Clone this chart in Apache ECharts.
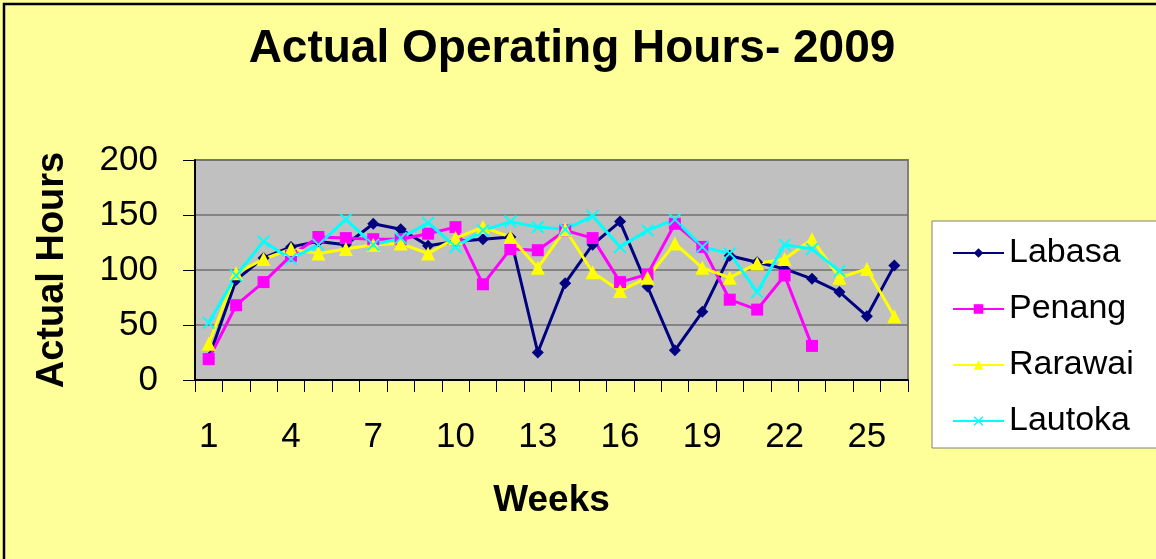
<!DOCTYPE html>
<html>
<head>
<meta charset="utf-8">
<script src="https://cdn.jsdelivr.net/npm/echarts@6/dist/echarts.min.js"></script>
<style>
	html, body { margin: 0; padding: 0; background: #ffff99; }
	#container { width: 1156px; height: 559px; }
</style>
</head>
<body>
<div id="container"></div>
<script>
const weeks = [...Array(26)].map((item, index) => String(index + 1));
const labasa = [20, 91, 111, 121, 126, 123, 142, 137, 122, 126, 128, 130, 25, 88, 123, 144, 85, 27, 62, 113, 107, 101, 92, 80, 58, 104];
const penang = [19, 68, 89, 113, 130, 129, 128, 128, 133, 139, 87, 119, 118, 136, 129, 89, 96, 142, 121, 73, 64, 95, 31, null, null, null];
const rarawai = [33, 97, 110, 119, 115, 119, 123, 124, 115, 129, 139, 130, 102, 137, 98, 81, 93, 124, 102, 93, 106, 110, 128, 93, 101, 58];
const lautoka = [52, 95, 126, 110, 123, 146, 123, 129, 143, 121, 136, 144, 139, 137, 149, 121, 136, 146, 121, 115, 80, 123, 119, 99, null, null];

const dom = document.getElementById('container');
const myChart = echarts.init(dom);

const font = 'Liberation Sans, Arial, sans-serif';
const crossIcon = 'path://M0,1L1,0L5,4L9,0L10,1L6,5L10,9L9,10L5,6L1,10L0,9L4,5Z';

function line(name, data, color, symbol, size) {
	return {
		name: name,
		type: 'line',
		data: data,
		symbol: symbol,
		symbolSize: size,
		showAllSymbol: true,
		lineStyle: { color: color, width: 3 },
		itemStyle: { color: color },
		emphasis: { disabled: true },
	};
}

const option = {
	backgroundColor: '#ffff99',
	animation: false,
	title: {
		text: 'Actual Operating Hours- 2009',
		left: 567,
		textAlign: 'center',
		top: 21,
		textStyle: { fontFamily: font, fontSize: 46, fontWeight: 'bold', color: '#000' },
	},
	graphic: [{
		type: 'rect',
		shape: { x: 4, y: 4, width: 1170, height: 580 },
		style: { fill: null, stroke: '#000', lineWidth: 2.5 },
		silent: true,
	}],
	legend: {
		orient: 'vertical',
		left: 932,
		top: 221,
		padding: [15, 40, 10, 20],
		itemGap: 22,
		itemWidth: 51,
		itemHeight: 12,
		backgroundColor: '#fff',
		borderColor: '#808080',
		borderWidth: 1,
		textStyle: { fontFamily: font, fontSize: 34, color: '#000' },
		data: ['Labasa', 'Penang', 'Rarawai', 'Lautoka'],
	},
	grid: {
		left: 195,
		top: 160,
		right: 248,
		bottom: 179,
		show: true,
		backgroundColor: '#c0c0c0',
		borderColor: '#808080',
		borderWidth: 2,
	},
	xAxis: {
		type: 'category',
		data: weeks,
		boundaryGap: true,
		name: 'Weeks',
		nameLocation: 'middle',
		nameGap: 102,
		nameTextStyle: { fontFamily: font, fontSize: 37, fontWeight: 'bold', color: '#000' },
		axisLine: { lineStyle: { color: '#000', width: 2 } },
		axisTick: { show: true, interval: 0, length: 12, lineStyle: { color: '#000' } },
		axisLabel: { interval: 2, margin: 40, fontFamily: font, fontSize: 35, color: '#000' },
	},
	yAxis: {
		type: 'value',
		min: 0,
		max: 200,
		interval: 50,
		name: 'Actual Hours',
		nameLocation: 'middle',
		nameGap: 123,
		nameTextStyle: { fontFamily: font, fontSize: 38, fontWeight: 'bold', color: '#000' },
		axisLine: { show: true, lineStyle: { color: '#000', width: 2 } },
		axisTick: { show: true, length: 12, lineStyle: { color: '#000' } },
		axisLabel: { margin: 37, fontFamily: font, fontSize: 35, color: '#000' },
		splitLine: { lineStyle: { color: '#707070', width: 1.5 } },
	},
	series: [
		line('Labasa', labasa, '#000080', 'diamond', 12),
		line('Penang', penang, '#ff00ff', 'rect', 12),
		line('Rarawai', rarawai, '#ffff00', 'triangle', 14),
		line('Lautoka', lautoka, '#00ffff', crossIcon, 13),
	],
};

if (option && typeof option === 'object') {
	myChart.setOption(option);
}
</script>
</body>
</html>
